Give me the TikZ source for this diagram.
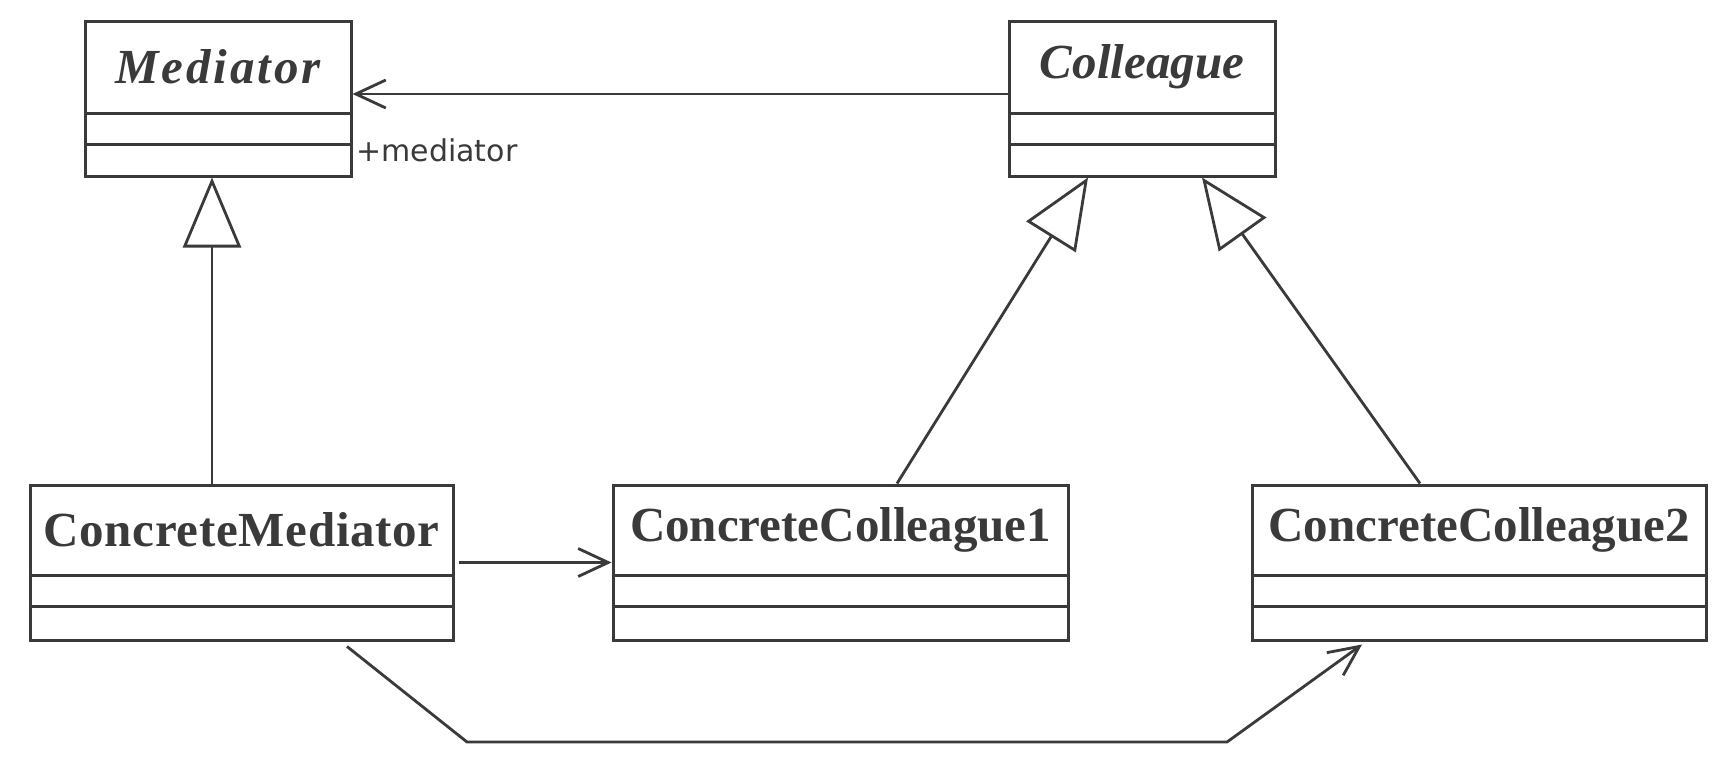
\documentclass[tikz,border=0pt]{standalone}
\usepackage{fontspec}
\setmainfont{Liberation Serif}
\newfontfamily\lblfont{DejaVu Sans}
\usetikzlibrary{arrows.meta,calc}
\definecolor{ink}{HTML}{3A3A3A}
\begin{document}
\begin{tikzpicture}[x=0.5pt,y=-0.5pt,
  cls/.style={draw=ink, line width=1.5pt, fill=white, minimum height=77.5pt, inner sep=0pt},
  cname/.style={text=ink, inner sep=0pt, font=\fontsize{24.5}{28}\selectfont\bfseries},
  aname/.style={cname, font=\fontsize{24.5}{28}\selectfont\bfseries\itshape},
  cline/.style={draw=ink, line width=1.5pt},
  gen/.style={draw=ink, line width=1.4pt, -{Triangle[open, length=35pt, width=29pt, fill=white]}},
  assoc/.style={draw=ink, line width=1.4pt, -{Straight Barb[length=15pt, width=14pt]}},
  lbl/.style={text=ink, inner sep=0pt, font=\lblfont\fontsize{15}{18}\selectfont}]
\useasboundingbox (0,0) rectangle (1732,776);
\fill[white] (0,0) rectangle (1732,776);

% class boxes
\node[cls, minimum width=133pt] (med) at (218,98.5) {};
\node[cls, minimum width=133pt] (col) at (1142,98.5) {};
\node[cls, minimum width=211.5pt] (cm) at (241.5,562.5) {};
\node[cls, minimum width=227.5pt] (cc1) at (840.5,562.5) {};
\node[cls, minimum width=227pt] (cc2) at (1479,562.5) {};

% class names
\node[aname] (medn) at ($(med.north)+(0,47)$) {\addfontfeature{LetterSpace=6}Mediator};
\node[aname] (coln) at ($(col.north)+(0,47)$) {Colleague};
\node[cname] (cmn) at ($(cm.north)+(0,46)$) {\addfontfeature{LetterSpace=1.5}ConcreteMediator};
\node[cname] (cc1n) at ($(cc1.north)+(0,46)$) {ConcreteColleague1};
\node[cname] (cc2n) at ($(cc2.north)+(0,46)$) {ConcreteColleague2};

% compartment lines
\foreach \b in {med,col}{
  \draw[cline] ($(\b.north west)+(0,94)$) -- ($(\b.north east)+(0,94)$);
  \draw[cline] ($(\b.north west)+(0,125)$) -- ($(\b.north east)+(0,125)$);
}
\foreach \b in {cm,cc1,cc2}{
  \draw[cline] ($(\b.north west)+(0,92)$) -- ($(\b.north east)+(0,92)$);
  \draw[cline] ($(\b.north west)+(0,123)$) -- ($(\b.north east)+(0,123)$);
}

% association Colleague -> Mediator
\draw[assoc] ([shift={(0,-4.5)}]col.west) -- ([shift={(0,-4.5)}]med.east);
\node[lbl, anchor=west] (role) at (356,150) {+mediator};

% generalizations
\coordinate (g1t) at ([shift={(-6,0)}]med.south);
\draw[gen] (cm.north -| g1t) -- (g1t);
\coordinate (g2t) at ([shift={(-54,0)}]col.south);
\coordinate (g2b) at ([shift={(56.5,0)}]cc1.north);
\draw[gen] (g2b) -- (g2t);
\coordinate (g3t) at ([shift={(60,0)}]col.south);
\coordinate (g3b) at ([shift={(-59,0)}]cc2.north);
\draw[gen] (g3b) -- (g3t);

% associations from ConcreteMediator
\draw[assoc] ([shift={(4,0)}]cm.east) -- (cc1.west);
\coordinate (s1) at ([shift={(105.5,5)}]cm.south);
\coordinate (k1) at (467,742);
\coordinate (k2) at (1227,742);
\coordinate (e1) at ([shift={(-117,3)}]cc2.south);
\draw[assoc, line join=miter] (s1) -- (k1) -- (k2) -- (e1);
\end{tikzpicture}
\end{document}
